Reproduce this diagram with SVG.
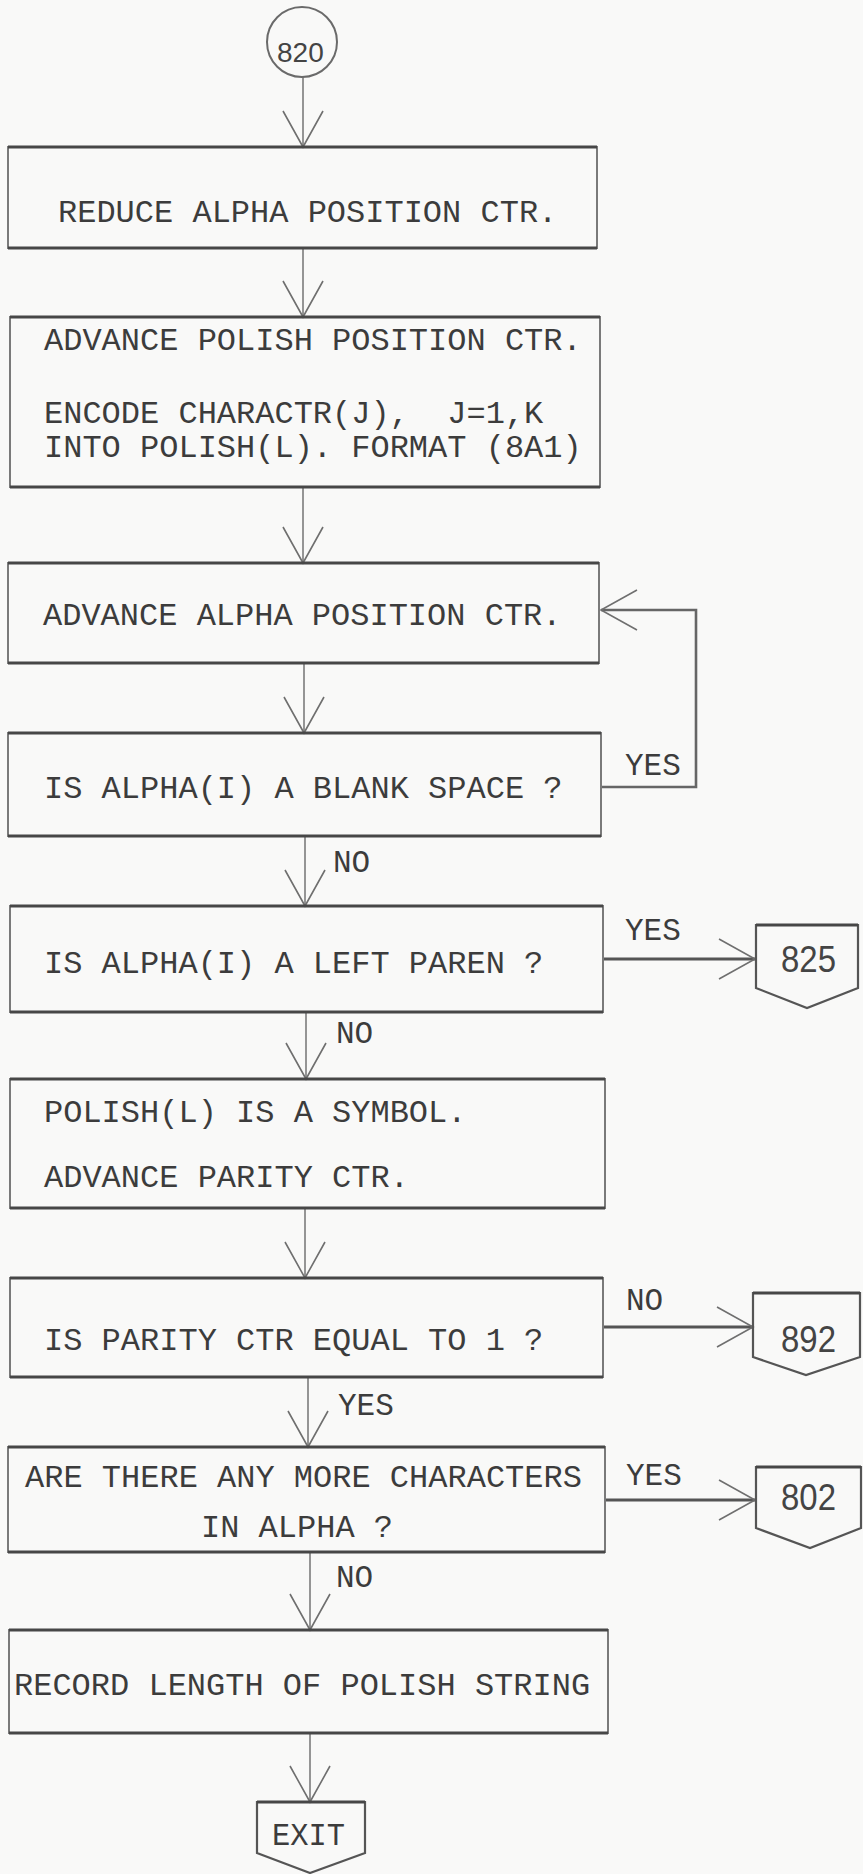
<svg xmlns="http://www.w3.org/2000/svg" width="863" height="1874" viewBox="0 0 863 1874">
<style>
.bg{fill:#f9f9f8}
.box{fill:none;stroke:#7a7a7a;stroke-width:2}
.edge{stroke:#474747;stroke-width:3.2;fill:none}
.conn{fill:none;stroke:#555;stroke-width:2.2}
.t{font-family:"Liberation Mono","DejaVu Sans Mono",monospace;font-size:32px;fill:#3c3c3c}
.lbl{font-family:"Liberation Mono","DejaVu Sans Mono",monospace;font-size:31px;fill:#3c3c3c}
.num{font-family:"Liberation Sans",Arial,sans-serif;font-size:36px;fill:#444}
.ln{fill:none;stroke:#8a8a8a;stroke-width:1.8}
.hl{fill:none;stroke:#555;stroke-width:3.2}
</style>
<defs>
<marker id="v" viewBox="0 0 40 44" markerWidth="40" markerHeight="44" refX="37" refY="21" orient="auto" markerUnits="userSpaceOnUse">
<path d="M1,1 L37,21 L1,41" fill="none" stroke="#6f6f6f" stroke-width="1.6"/>
</marker>
</defs>
<rect class="bg" x="0" y="0" width="863" height="1874"/>

<g id="connectors">
<path class="ln" d="M303,77 L303,147" marker-end="url(#v)"/>
<path class="ln" d="M303,248 L303,317" marker-end="url(#v)"/>
<path class="ln" d="M303,488 L303,563" marker-end="url(#v)"/>
<path class="ln" d="M304,663 L304,733" marker-end="url(#v)"/>
<path class="hl" d="M601,787 L696,787 L696,610 L601,610" marker-end="url(#v)" style="stroke:#666;stroke-width:2.6"/>
<path class="ln" d="M305,836 L305,906" marker-end="url(#v)"/>
<path class="hl" d="M603,959 L755,959" marker-end="url(#v)"/>
<path class="ln" d="M306,1012 L306,1079" marker-end="url(#v)"/>
<path class="ln" d="M305,1208 L305,1278" marker-end="url(#v)"/>
<path class="hl" d="M603,1327 L753,1327" marker-end="url(#v)"/>
<path class="ln" d="M308,1377 L308,1447" marker-end="url(#v)"/>
<path class="hl" d="M605,1500 L755,1500" marker-end="url(#v)"/>
<path class="ln" d="M310,1552 L310,1630" marker-end="url(#v)"/>
<path class="ln" d="M310,1733 L310,1802" marker-end="url(#v)"/>
<text class="lbl" x="625" y="775">YES</text>
<text class="lbl" x="333" y="872">NO</text>
<text class="lbl" x="625" y="940">YES</text>
<text class="lbl" x="336" y="1043">NO</text>
<text class="lbl" x="626" y="1310">NO</text>
<text class="lbl" x="338" y="1415">YES</text>
<text class="lbl" x="626" y="1485">YES</text>
<text class="lbl" x="336" y="1587">NO</text>
</g>

<g id="n820">
<circle cx="302" cy="42" r="35" fill="none" stroke="#6a6a6a" stroke-width="2"/>
<text x="277" y="62" font-family="Liberation Sans,Arial,sans-serif" font-size="28" fill="#444">820</text>
</g>

<g id="box1">
<rect class="box" x="8" y="147" width="589" height="101"/>
<path class="edge" d="M8,147 H597 M8,248 H597"/>
<text class="t" x="58" y="222">REDUCE ALPHA POSITION CTR.</text>
</g>

<g id="box2">
<rect class="box" x="10" y="317" width="590" height="170"/>
<path class="edge" d="M10,317 H600 M10,487 H600"/>
<text class="t" x="44" y="350">ADVANCE POLISH POSITION CTR.</text>
<text class="t" x="44" y="423" xml:space="preserve">ENCODE CHARACTR(J),  J=1,K</text>
<text class="t" x="44" y="457">INTO POLISH(L). FORMAT (8A1)</text>
</g>

<g id="box3">
<rect class="box" x="8" y="563" width="591" height="100"/>
<path class="edge" d="M8,563 H599 M8,663 H599"/>
<text class="t" x="43" y="625">ADVANCE ALPHA POSITION CTR.</text>
</g>

<g id="box4">
<rect class="box" x="8" y="733" width="593" height="103"/>
<path class="edge" d="M8,733 H601 M8,836 H601"/>
<text class="t" x="44" y="798">IS ALPHA(I) A BLANK SPACE ?</text>
</g>

<g id="box5">
<rect class="box" x="10" y="906" width="593" height="106"/>
<path class="edge" d="M10,906 H603 M10,1012 H603"/>
<text class="t" x="44" y="973">IS ALPHA(I) A LEFT PAREN ?</text>
</g>

<g id="c825">
<polygon class="conn" points="756,925 858,925 858,988 807,1008 756,988"/>
<path class="edge" d="M756,925 H858"/>
<text class="num" x="781" y="972" textLength="55" lengthAdjust="spacingAndGlyphs">825</text>
</g>

<g id="box6">
<rect class="box" x="10" y="1079" width="595" height="129"/>
<path class="edge" d="M10,1079 H605 M10,1208 H605"/>
<text class="t" x="44" y="1122">POLISH(L) IS A SYMBOL.</text>
<text class="t" x="44" y="1187">ADVANCE PARITY CTR.</text>
</g>

<g id="box7">
<rect class="box" x="10" y="1278" width="593" height="99"/>
<path class="edge" d="M10,1278 H603 M10,1377 H603"/>
<text class="t" x="44" y="1350">IS PARITY CTR EQUAL TO 1 ?</text>
</g>

<g id="c892">
<polygon class="conn" points="753,1293 860,1293 860,1357 806,1375 753,1357"/>
<path class="edge" d="M753,1293 H860"/>
<text class="num" x="781" y="1352" textLength="55" lengthAdjust="spacingAndGlyphs">892</text>
</g>

<g id="box8">
<rect class="box" x="8" y="1447" width="597" height="105"/>
<path class="edge" d="M8,1447 H605 M8,1552 H605"/>
<text class="t" x="25" y="1487">ARE THERE ANY MORE CHARACTERS</text>
<text class="t" x="201" y="1537">IN ALPHA ?</text>
</g>

<g id="c802">
<polygon class="conn" points="756,1467 861,1467 861,1528 810,1548 756,1528"/>
<path class="edge" d="M756,1467 H861"/>
<text class="num" x="781" y="1510" textLength="55" lengthAdjust="spacingAndGlyphs">802</text>
</g>

<g id="box9">
<rect class="box" x="9" y="1630" width="599" height="103"/>
<path class="edge" d="M9,1630 H608 M9,1733 H608"/>
<text class="t" x="14" y="1695">RECORD LENGTH OF POLISH STRING</text>
</g>

<g id="exit">
<polygon class="conn" points="257,1802 365,1802 365,1853 310,1873 257,1853"/>
<path class="edge" d="M257,1802 H365"/>
<text class="lbl" x="272" y="1845" textLength="73" lengthAdjust="spacingAndGlyphs">EXIT</text>
</g>
</svg>
